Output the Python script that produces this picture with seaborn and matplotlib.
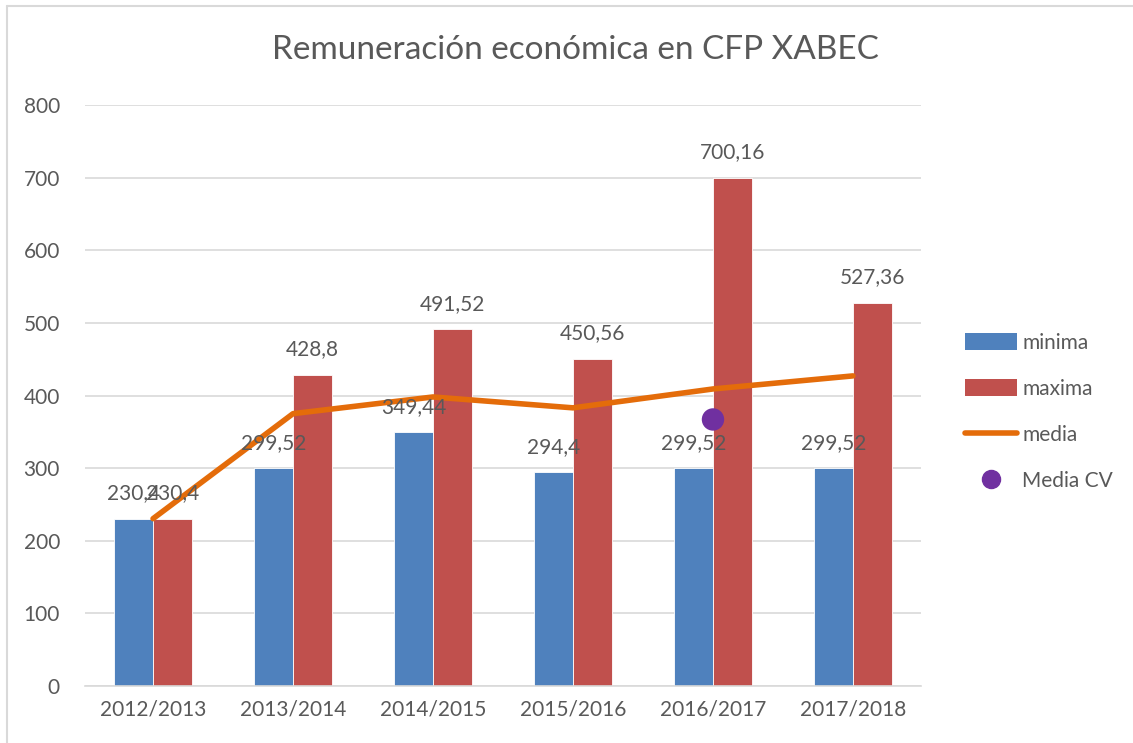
import numpy as np
import pandas as pd
import matplotlib
matplotlib.use("Agg")
import matplotlib.pyplot as plt
import seaborn as sns
from matplotlib.lines import Line2D
from matplotlib.patches import Patch

years = ["2012/2013", "2013/2014", "2014/2015", "2015/2016", "2016/2017", "2017/2018"]
minima = [230.4, 299.52, 349.44, 294.4, 299.52, 299.52]
maxima = [230.4, 428.8, 491.52, 450.56, 700.16, 527.36]
media = [230.4, 375, 398, 383, 409, 427]
media_cv = [np.nan, np.nan, np.nan, np.nan, 367, np.nan]

BLUE = "#4F81BD"
RED = "#C0504D"
ORANGE = "#E46C0A"
PURPLE = "#7030A0"
TXT = "#595959"

sns.set_theme(style="white")
plt.rcParams["font.family"] = ["Lato", "DejaVu Sans"]

df = pd.DataFrame({
    "year": years * 2,
    "serie": ["minima"] * len(years) + ["maxima"] * len(years),
    "value": minima + maxima,
})

fig = plt.figure(figsize=(11.33, 7.43), dpi=100)
ax = fig.add_axes([85 / 1133, 1 - 686 / 743, (921 - 85) / 1133, (686 - 105) / 743])

sns.barplot(data=df, x="year", y="value", hue="serie", palette=[BLUE, RED],
            width=0.56, saturation=1, ax=ax, legend=False, errorbar=None,
            edgecolor="white", linewidth=0.6)

xs = np.arange(len(years))
sns.lineplot(x=xs, y=media, color=ORANGE, linewidth=4, ax=ax, legend=False)
sns.scatterplot(x=xs, y=media_cv, color=PURPLE, s=260, ax=ax, legend=False, zorder=5,
                edgecolor="none")

# data labels
off = 0.14
for i, (mn, mx) in enumerate(zip(minima, maxima)):
    ax.text(i - off, mn + 35, f"{mn:g}".replace(".", ","), ha="center", va="center",
            fontsize=15, color=TXT, zorder=6)
    ax.text(i + off, mx + 35, f"{mx:g}".replace(".", ","), ha="center", va="center",
            fontsize=15, color=TXT, zorder=6)

ax.set_ylim(0, 800)
ax.set_xlim(-0.486, 5.486)
ax.set_yticks(range(0, 801, 100))
ax.grid(axis="y", color="#D9D9D9", linewidth=1.2)
ax.set_axisbelow(True)
for s in ["top", "right", "left"]:
    ax.spines[s].set_visible(False)
ax.spines["bottom"].set_color("#D9D9D9")
ax.spines["bottom"].set_linewidth(1.2)
ax.set_xlabel("")
ax.set_ylabel("")
ax.tick_params(axis="both", length=0, labelsize=15, colors=TXT)
ax.tick_params(axis="y", pad=18)
ax.tick_params(axis="x", pad=10)

fig.text(575 / 1133, 1 - 50 / 743, "Remuneración económica en CFP XABEC",
         ha="center", va="center", fontsize=24, color=TXT)

handles = [
    Patch(facecolor=BLUE, edgecolor="none"),
    Patch(facecolor=RED, edgecolor="none"),
    Line2D([], [], color=ORANGE, linewidth=4, solid_capstyle="round"),
    Line2D([], [], color=PURPLE, marker="o", linestyle="none", markersize=13),
]
labels = ["minima", "maxima", "media", "Media CV"]
leg = fig.legend(handles, labels, loc="center left", bbox_to_anchor=(946 / 1133, 1 - 412 / 743),
                 frameon=False, fontsize=15, labelcolor=TXT, handlelength=2.5,
                 handleheight=0.9, handletextpad=0.25, labelspacing=1.25)

# chart frame lines
fig.add_artist(Line2D([7 / 1133, 7 / 1133], [0, 1 - 6 / 743], color="#D9D9D9", linewidth=1.5))
fig.add_artist(Line2D([7 / 1133, 1], [1 - 6 / 743, 1 - 6 / 743], color="#D9D9D9", linewidth=1.5))

fig.savefig("out.png", dpi=100)
